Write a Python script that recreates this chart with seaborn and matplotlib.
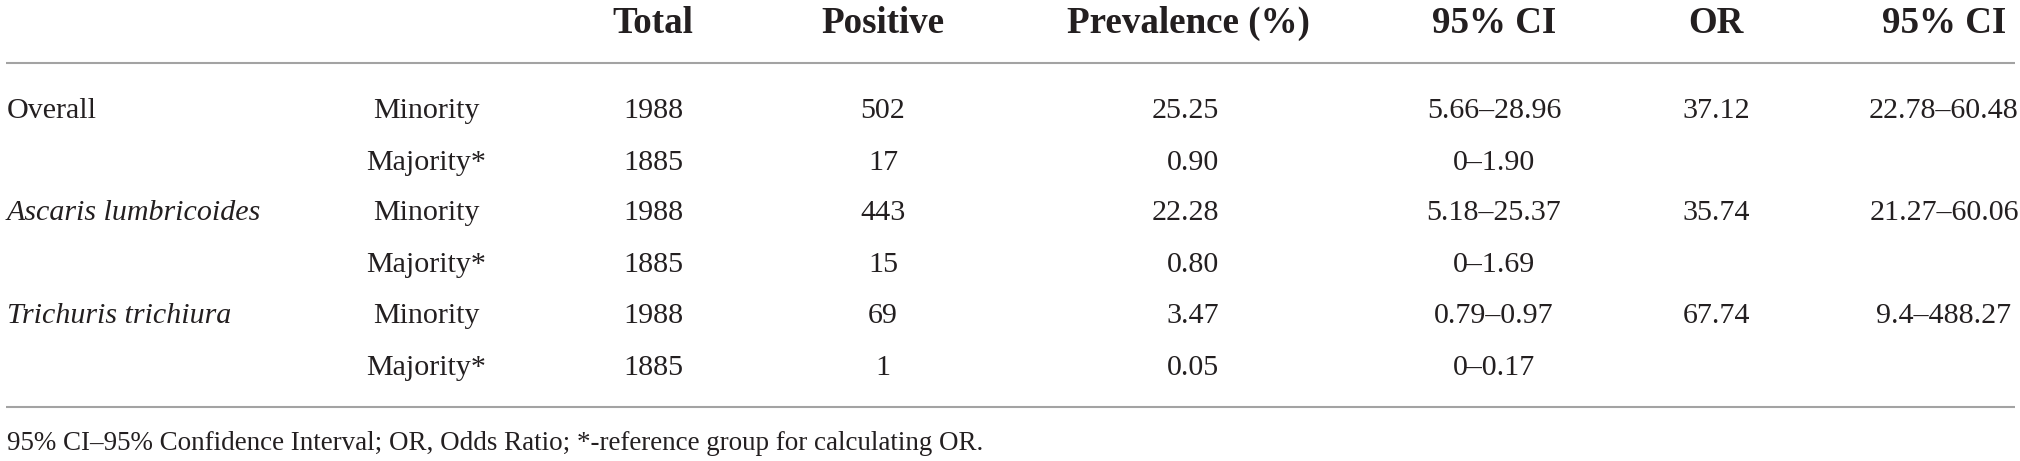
import numpy as np
import pandas as pd
import matplotlib
matplotlib.use('Agg')
import matplotlib.pyplot as plt
import seaborn as sns

# Table contents
headers = ['Total', 'Positive', 'Prevalence (%)', '95% CI', 'OR', '95% CI']
parasites = ['Overall', 'Ascaris lumbricoides', 'Trichuris trichiura']
groups = ['Minority', 'Majority*']
total = [1988, 1885, 1988, 1885, 1988, 1885]
positive = [502, 17, 443, 15, 69, 1]
prevalence = ['25.25', '0.90', '22.28', '0.80', '3.47', '0.05']
prev_ci = ['5.66–28.96', '0–1.90', '5.18–25.37', '0–1.69', '0.79–0.97', '0–0.17']
odds_ratio = ['37.12', '', '35.74', '', '67.74', '']
or_ci = ['22.78–60.48', '', '21.27–60.06', '', '9.4–488.27', '']
footnote = '95% CI–95% Confidence Interval; OR, Odds Ratio; *-reference group for calculating OR.'

df = pd.DataFrame({
    'parasite': [p if i % 2 == 0 else '' for p in parasites for i in range(2)],
    'group': groups * 3,
    'total': total,
    'positive': positive,
    'prevalence': prevalence,
    'prev_ci': prev_ci,
    'or': odds_ratio,
    'or_ci': or_ci,
})

# Layout (pixel coordinates of the 2020x461 canvas)
W, H = 2020, 461
col_x = {'parasite': 7, 'group': 426, 'total': 653, 'positive': 883,
         'prevalence': 1219, 'prev_ci': 1494, 'or': 1716, 'or_ci': 1944}
col_ha = {'parasite': 'left', 'group': 'center', 'total': 'center', 'positive': 'center',
          'prevalence': 'right', 'prev_ci': 'center', 'or': 'center', 'or_ci': 'center'}
header_x = [653, 883, 1188, 1494, 1716, 1944]
header_y = 33
row_y = [118, 170, 220, 272, 323, 375]
rule_y = [63, 407]
foot_y = 450

text_color = '#231f20'
rule_color = '#a3a3a3'

sns.set_theme(style='white')
plt.rcParams['font.family'] = ['Liberation Serif', 'DejaVu Serif']

fig = plt.figure(figsize=(W / 100, H / 100), dpi=100)
ax = fig.add_axes([0, 0, 1, 1])
ax.set_xlim(0, W)
ax.set_ylim(H, 0)
ax.axis('off')

body_size = 30 * 72 / 100
head_size = 37 * 72 / 100
foot_size = 27 * 72 / 100

for x, h in zip(header_x, headers):
    ax.text(x, header_y, h, ha='center', va='baseline', fontsize=head_size,
            fontweight='bold', color=text_color)

for y in rule_y:
    ax.plot([6, 2015], [y, y], color=rule_color, lw=1.5, solid_capstyle='butt')

for i, row in df.iterrows():
    y = row_y[i]
    for col in col_x:
        val = str(row[col])
        if not val:
            continue
        style = 'italic' if col == 'parasite' and val != 'Overall' else 'normal'
        ax.text(col_x[col], y, val, ha=col_ha[col], va='baseline', fontsize=body_size,
                fontstyle=style, color=text_color)

ax.text(7, foot_y, footnote, ha='left', va='baseline', fontsize=foot_size, color=text_color)

fig.savefig('out.png', dpi=100, facecolor='white')
